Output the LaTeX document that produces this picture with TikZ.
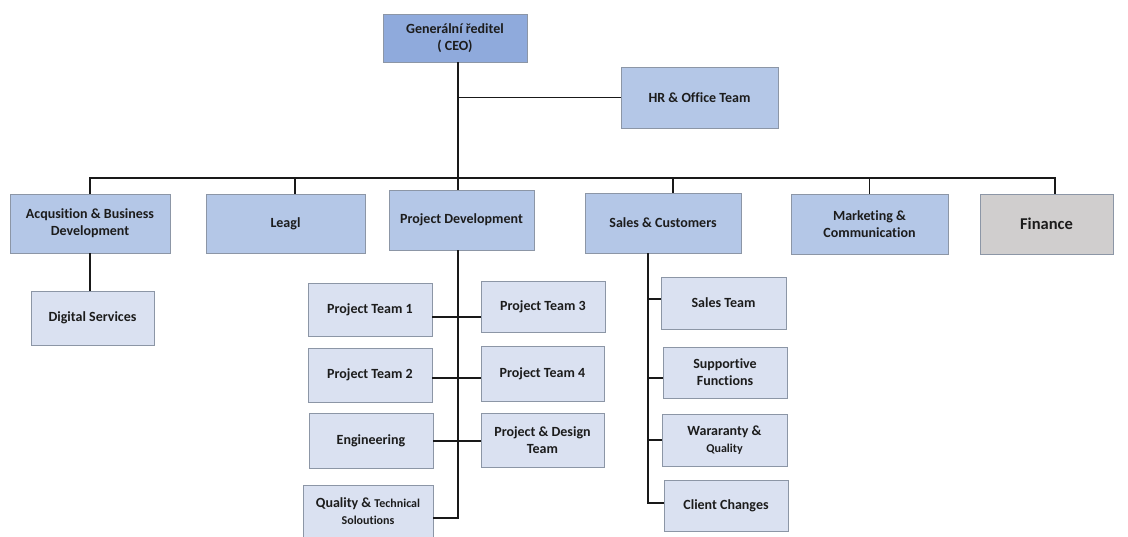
\documentclass[tikz,border=0pt]{standalone}
\usepackage{fontspec}
\setmainfont{Carlito}[Ligatures=NoCommon]
\usetikzlibrary{calc}
\definecolor{cCEO}{HTML}{8FAADC}
\definecolor{cMain}{HTML}{B4C7E7}
\definecolor{cSub}{HTML}{DAE1F1}
\definecolor{cFin}{HTML}{D0CECE}
\definecolor{cEdge}{HTML}{8C96A6}
\definecolor{cTxt}{HTML}{1C1C1C}
\tikzset{
  orgbox/.style={draw=cEdge, line width=0.9pt, inner sep=0pt, align=center, text=cTxt,
    font=\bfseries\fontsize{14}{17}\selectfont},
  ceobox/.style={orgbox, fill=cCEO},
  mainbox/.style={orgbox, fill=cMain},
  subbox/.style={orgbox, fill=cSub},
  finbox/.style={orgbox, fill=cFin, font=\bfseries\fontsize{16.5}{19}\selectfont},
  link/.style={draw=black!90, line width=1.2pt},
}
\begin{document}
\begin{tikzpicture}[x=1pt,y=-1pt]
\useasboundingbox[fill=white] (0,0) rectangle (1128,536);
% level 0
\node[ceobox, minimum width=144pt, minimum height=48pt] (ceo) at (455,38) {Generální ředitel\\( CEO)};
\node[mainbox, minimum width=157pt, minimum height=61pt] (hr) at (699.5,97.5) {HR \& Office Team};
% level 1
\node[mainbox, minimum width=160pt, minimum height=59pt] (acq) at (90,223.5) {Acqusition \& Business\\Development};
\node[mainbox, minimum width=159pt, minimum height=59pt] (leg) at (285.5,223.5) {Leagl};
\node[mainbox, minimum width=145pt, minimum height=60pt] (pd) at (461.5,220) {Project Development};
\node[mainbox, minimum width=156pt, minimum height=60pt] (sal) at (663,223) {Sales \& Customers};
\node[mainbox, minimum width=157pt, minimum height=60pt] (mkt) at (869.5,224) {Marketing \&\\Communication};
\node[finbox, minimum width=133pt, minimum height=60pt] (fin) at (1046.5,224) {Finance};
% level 2
\node[subbox, minimum width=123pt, minimum height=54pt] (dig) at (92.5,318) {Digital Services};
\node[subbox, minimum width=124pt, minimum height=53pt] (pt1) at (370,309.5) {Project Team 1};
\node[subbox, minimum width=124pt, minimum height=51pt] (pt3) at (543,306.5) {Project Team 3};
\node[subbox, minimum width=124pt, minimum height=54pt] (pt2) at (370,375) {Project Team 2};
\node[subbox, minimum width=123pt, minimum height=55pt] (pt4) at (542.5,373.5) {Project Team 4};
\node[subbox, minimum width=124pt, minimum height=55pt] (eng) at (371,440.5) {Engineering};
\node[subbox, minimum width=123pt, minimum height=54pt] (pdt) at (542.5,440) {Project \& Design\\Team};
\node[subbox, minimum width=130pt, minimum height=52pt] (qts) at (368,511) {Quality \& {\fontsize{12}{17}\selectfont Technical}\\{\fontsize{12}{17}\selectfont Soloutions}};
\node[subbox, minimum width=125pt, minimum height=52pt] (st) at (723.5,303) {Sales Team};
\node[subbox, minimum width=124pt, minimum height=51pt] (sf) at (725,372.5) {Supportive\\Functions};
\node[subbox, minimum width=125pt, minimum height=52pt] (wq) at (724.5,440) {Wararanty \&\\{\fontsize{12}{17}\selectfont Quality}};
\node[subbox, minimum width=124pt, minimum height=51pt] (cc) at (726,505.5) {Client Changes};
% connectors
\coordinate (trk) at (458,178);
\coordinate (busR) at (1055,178);
\draw[link] (ceo.south -| trk) -- (trk);
\draw[link] (hr.west) -- (hr.west -| trk);
\draw[link] (acq.north) -- (acq.north |- trk) -- (busR) -- (busR |- fin.north);
\draw[link] ([xshift=9.5pt]leg.north) -- ([xshift=9.5pt]leg.north |- trk);
\draw[link] (pd.north -| trk) -- (trk);
\draw[link] ([xshift=10pt]sal.north) -- ([xshift=10pt]sal.north |- trk);
\draw[link] (mkt.north) -- (mkt.north |- trk);
\draw[link] (acq.south) -- (dig.north -| acq.south);
% project development
\draw[link] (pd.south -| trk) -- (458,518) -- (qts.east |- 0,518);
\draw[link] (pt1.east |- 0,317) -- (pt3.west |- 0,317);
\draw[link] (pt2.east |- 0,378) -- (pt4.west |- 0,378);
\draw[link] (eng.east |- 0,441) -- (pdt.west |- 0,441);
% sales
\draw[link] (sal.south -| 648,0) -- (648,503) -- (cc.west |- 0,503);
\draw[link] (648,299) -- (st.west |- 0,299);
\draw[link] (648,378) -- (sf.west |- 0,378);
\draw[link] (648,440) -- (wq.west |- 0,440);
\end{tikzpicture}
\end{document}
